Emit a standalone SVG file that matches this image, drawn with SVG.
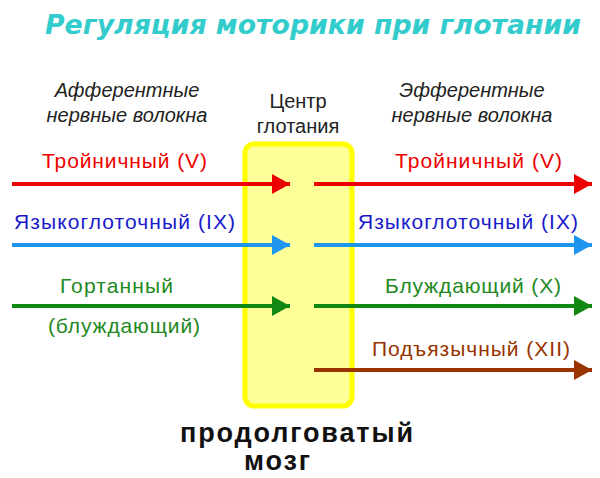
<svg xmlns="http://www.w3.org/2000/svg" width="600" height="478" viewBox="0 0 600 478">
<defs>
<style>
.t{font-family:"Liberation Sans",Arial,sans-serif;font-size:21px}
.h{font-family:"Liberation Sans",Arial,sans-serif;font-size:20px;fill:#222;text-anchor:middle}
.i{font-style:italic}
.ln{stroke-width:4;fill:none}
.m{font-family:"Liberation Sans",Arial,sans-serif;font-size:27px;font-weight:bold;fill:#111}
</style>
<marker id="mr" markerWidth="18" markerHeight="20" refX="18" refY="10" orient="auto" markerUnits="userSpaceOnUse"><path d="M0,0 L18,10 L0,20 Z" fill="#ee0000"/></marker>
<marker id="mb" markerWidth="18" markerHeight="20" refX="18" refY="10" orient="auto" markerUnits="userSpaceOnUse"><path d="M0,0 L18,10 L0,20 Z" fill="#1e96f0"/></marker>
<marker id="mg" markerWidth="18" markerHeight="20" refX="18" refY="10" orient="auto" markerUnits="userSpaceOnUse"><path d="M0,0 L18,10 L0,20 Z" fill="#118811"/></marker>
<marker id="mo" markerWidth="18" markerHeight="20" refX="18" refY="10" orient="auto" markerUnits="userSpaceOnUse"><path d="M0,0 L18,10 L0,20 Z" fill="#993300"/></marker>
</defs>
<rect width="600" height="478" fill="#ffffff"/>
<text x="45" y="34" font-family="'DejaVu Sans',sans-serif" font-size="27" font-weight="bold" font-style="italic" fill="#33cccc" textLength="536" lengthAdjust="spacingAndGlyphs">Регуляция моторики при глотании</text>
<g id="center">
<rect x="245" y="144" width="107" height="262" rx="9" fill="#ffff99" stroke="#ffff00" stroke-width="5"/>
<text class="h" x="298" y="108">Центр</text>
<text class="h" x="298" y="133">глотания</text>
</g>
<g id="afferent-header">
<text class="h i" x="127" y="97">Афферентные</text>
<text class="h i" x="127" y="122">нервные волокна</text>
</g>
<g id="efferent-header">
<text class="h i" x="472" y="97">Эфферентные</text>
<text class="h i" x="472" y="122">нервные волокна</text>
</g>
<g id="labels">
<text class="t" x="42" y="168" fill="#ee0000" textLength="165">Тройничный  (V)</text>
<text class="t" x="395" y="168" fill="#ee0000" textLength="167">Тройничный  (V)</text>
<text class="t" x="14" y="229" fill="#1a1acc" textLength="221">Языкоглоточный (IX)</text>
<text class="t" x="358" y="229" fill="#1a1acc" textLength="220">Языкоглоточный (IX)</text>
<text class="t" x="60" y="293" fill="#228822" textLength="113">Гортанный</text>
<text class="t" x="48" y="333" fill="#228822" textLength="152">(блуждающий)</text>
<text class="t" x="385" y="293" fill="#228822" textLength="176">Блуждающий (X)</text>
<text class="t" x="372" y="356" fill="#993300" textLength="198">Подъязычный (XII)</text>
</g>
<g id="connectors">
<line class="ln" x1="12" y1="184" x2="290" y2="184" stroke="#ee0000" marker-end="url(#mr)"/>
<line class="ln" x1="314" y1="184" x2="592" y2="184" stroke="#ee0000" marker-end="url(#mr)"/>
<line class="ln" x1="12" y1="245" x2="290" y2="245" stroke="#1e96f0" marker-end="url(#mb)"/>
<line class="ln" x1="314" y1="245" x2="592" y2="245" stroke="#1e96f0" marker-end="url(#mb)"/>
<line class="ln" x1="12" y1="306" x2="290" y2="306" stroke="#118811" marker-end="url(#mg)"/>
<line class="ln" x1="314" y1="306" x2="592" y2="306" stroke="#118811" marker-end="url(#mg)"/>
<line class="ln" x1="314" y1="370" x2="592" y2="370" stroke="#993300" marker-end="url(#mo)"/>
</g>
<g id="medulla">
<text class="m" x="180" y="442" textLength="233">продолговатый</text>
<text class="m" x="244" y="470" textLength="66">мозг</text>
</g>
</svg>
